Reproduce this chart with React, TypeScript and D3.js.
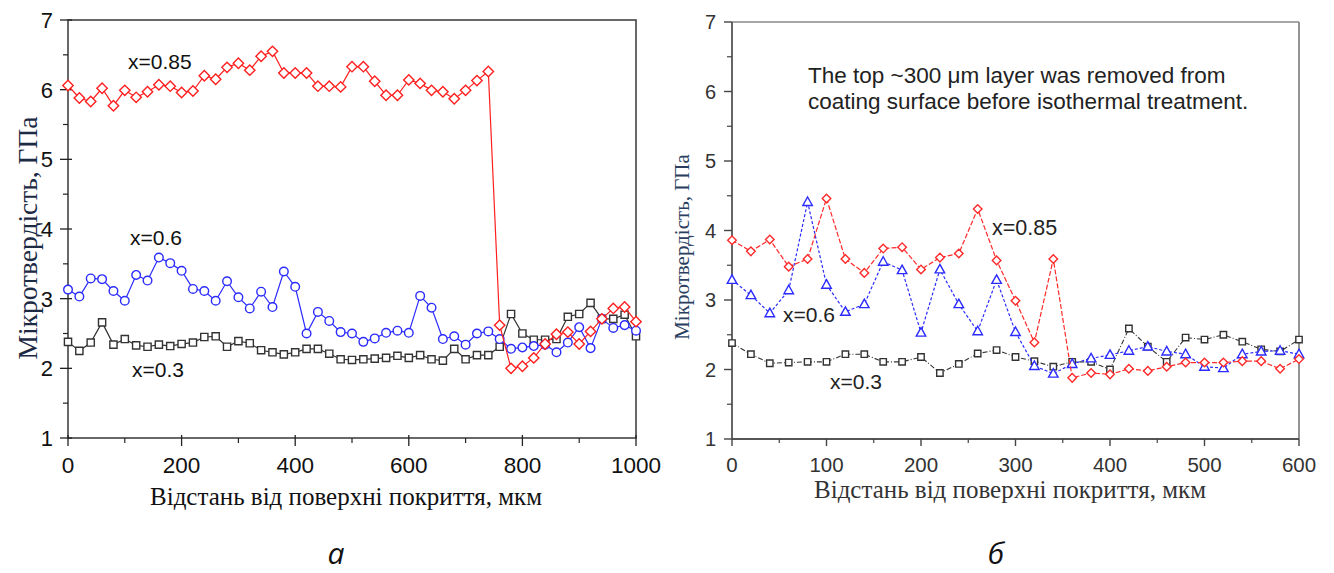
import React from "react";
import * as d3 from "d3";

// ---------- Data: panel a ----------
const xA = [0,20,40,60,80,100,120,140,160,180,200,220,240,260,280,300,320,340,360,380,400,420,440,460,480,500,520,540,560,580,600,620,640,660,680,700,720,740,760,780,800,820,840,860,880,900,920,940,960,980,1000];
const a085 = [6.06,5.88,5.83,6.02,5.77,5.99,5.89,5.97,6.07,6.05,5.96,5.98,6.20,6.15,6.32,6.38,6.28,6.48,6.55,6.24,6.24,6.24,6.05,6.05,6.04,6.33,6.33,6.12,5.92,5.92,6.14,6.09,5.99,5.97,5.87,5.99,6.13,6.26,2.62,2.00,2.03,2.15,2.35,2.49,2.52,2.35,2.53,2.71,2.86,2.88,2.67];
const a06 = [3.13,3.03,3.29,3.28,3.11,2.97,3.34,3.26,3.59,3.51,3.40,3.14,3.11,2.97,3.25,3.02,2.86,3.10,2.88,3.39,3.17,2.50,2.81,2.68,2.52,2.50,2.38,2.43,2.51,2.54,2.51,3.04,2.87,2.42,2.46,2.34,2.50,2.53,2.42,2.28,2.30,2.32,2.34,2.23,2.37,2.59,2.29,2.71,2.58,2.62,2.54];
const a03 = [2.38,2.25,2.37,2.66,2.34,2.42,2.33,2.31,2.34,2.32,2.35,2.37,2.45,2.46,2.31,2.39,2.36,2.26,2.23,2.20,2.23,2.28,2.28,2.21,2.13,2.12,2.13,2.14,2.15,2.18,2.15,2.19,2.13,2.11,2.28,2.13,2.19,2.19,2.31,2.78,2.50,2.41,2.41,2.42,2.74,2.78,2.94,2.71,2.71,2.77,2.46];
const xTicksA = [0,200,400,600,800,1000];
const xMinorA = [100,300,500,700,900];

// ---------- Data: panel б ----------
const xB = [0,20,40,60,80,100,120,140,160,180,200,220,240,260,280,300,320,340,360,380,400,420,440,460,480,500,520,540,560,580,600];
const b085 = [3.86,3.70,3.87,3.48,3.59,4.46,3.59,3.39,3.74,3.76,3.44,3.61,3.67,4.31,3.57,2.99,2.39,3.59,1.88,1.95,1.93,2.01,1.98,2.04,2.10,2.10,2.10,2.12,2.12,2.01,2.15];
const b06 = [3.29,3.07,2.81,3.14,4.41,3.22,2.83,2.94,3.55,3.43,2.53,3.44,2.94,2.55,3.29,2.54,2.05,1.94,2.08,2.16,2.21,2.27,2.33,2.26,2.22,2.04,2.02,2.22,2.26,2.27,2.22];
const b03 = [2.38,2.22,2.09,2.10,2.11,2.11,2.22,2.22,2.11,2.11,2.18,1.95,2.08,2.23,2.28,2.18,2.12,2.04,2.11,2.11,2.00,2.59,2.33,2.11,2.46,2.43,2.50,2.40,2.29,2.26,2.43];
const xTicksB = [0,100,200,300,400,500,600];
const xMinorB = [50,150,250,350,450,550];

const yTicks = [1,2,3,4,5,6,7];
const yMinor = [1.5,2.5,3.5,4.5,5.5,6.5];

const yLabel = "Мікротвердість, ГПа";
const xLabel = "Відстань від поверхні покриття, мкм";
const note1 = "The top ~300 μm layer was removed from";
const note2 = "coating surface before isothermal treatment.";

type Shape = "diamond" | "circle" | "square" | "triangle";

function marker(shape: Shape, x: number, y: number, r: number) {
  if (shape === "diamond") return `M${x},${y - r}L${x + r},${y}L${x},${y + r}L${x - r},${y}Z`;
  if (shape === "square") return `M${x - r},${y - r}h${2 * r}v${2 * r}h${-2 * r}Z`;
  if (shape === "triangle") return `M${x},${y - r}L${x + r * 0.95},${y + r * 0.7}L${x - r * 0.95},${y + r * 0.7}Z`;
  return `M${x - r},${y}a${r},${r} 0 1,0 ${2 * r},0a${r},${r} 0 1,0 ${-2 * r},0Z`;
}

function Series({ xs, ys, x, y, color, shape, r, dash, sw }: any) {
  const pts: [number, number][] = xs.map((v: number, i: number) => [x(v), y(ys[i])]);
  const line = d3.line()(pts) || "";
  return (
    <g>
      <path d={line} fill="none" stroke={color} strokeWidth={sw} strokeDasharray={dash} />
      {pts.map((p, i) => (
        <path key={i} d={marker(shape, p[0], p[1], r)} fill="white" stroke={color} strokeWidth={1.4} />
      ))}
    </g>
  );
}

export default function App() {
  // panel a
  const xa = d3.scaleLinear().domain([0, 1000]).range([68, 636]);
  const ya = d3.scaleLinear().domain([1, 7]).range([438, 20]);
  // panel б
  const xb = d3.scaleLinear().domain([0, 600]).range([732, 1299]);
  const yb = d3.scaleLinear().domain([1, 7]).range([439, 22]);

  const sans = "Liberation Sans, Arial, sans-serif";
  const serif = "Liberation Serif, Times New Roman, serif";

  return (
    <svg width={1334} height={573} style={{ position: "absolute", left: 0, top: 0, background: "white" }}>
      {/* ---------------- Panel a ---------------- */}
      <g>
        <rect x={xa(0)} y={ya(7)} width={xa(1000) - xa(0)} height={ya(1) - ya(7)} fill="none" stroke="#444" strokeWidth={1.6} />
        {yTicks.map((t) => (
          <g key={"ya" + t}>
            <line x1={xa(0) - 8} x2={xa(0) + 4} y1={ya(t)} y2={ya(t)} stroke="#222" strokeWidth={1.3} />
            <text x={53} y={ya(t) + 8} textAnchor="end" fontFamily={sans} fontSize={22} fill="#111">{t}</text>
          </g>
        ))}
        {yMinor.map((t) => (
          <line key={"yma" + t} x1={xa(0) - 5} x2={xa(0)} y1={ya(t)} y2={ya(t)} stroke="#222" strokeWidth={1.2} />
        ))}
        {xTicksA.map((t) => (
          <g key={"xa" + t}>
            <line x1={xa(t)} x2={xa(t)} y1={ya(1) - 3} y2={ya(1) + 8} stroke="#222" strokeWidth={1.3} />
            <text x={xa(t)} y={473} textAnchor="middle" fontFamily={sans} fontSize={22.5} fill="#111">{t}</text>
          </g>
        ))}
        {xMinorA.map((t) => (
          <line key={"xma" + t} x1={xa(t)} x2={xa(t)} y1={ya(1)} y2={ya(1) + 5} stroke="#222" strokeWidth={1.2} />
        ))}
        <text transform="translate(37,238) rotate(-90)" textAnchor="middle" fontFamily={serif} fontSize={27.5} fill="#1c2a44">{yLabel}</text>
        <text x={346} y={505} textAnchor="middle" fontFamily={serif} fontSize={25} fill="#111">{xLabel}</text>

        <Series xs={xA} ys={a03} x={xa} y={ya} color="#333" shape="square" r={3.6} sw={1.2} />
        <Series xs={xA} ys={a06} x={xa} y={ya} color="#2b2bff" shape="circle" r={4.3} sw={1.2} />
        <Series xs={xA} ys={a085} x={xa} y={ya} color="#ff1f1f" shape="diamond" r={5.2} sw={1.2} />

        <text x={128} y={69} fontFamily={sans} fontSize={21} fill="#111">x=0.85</text>
        <text x={130} y={245} fontFamily={sans} fontSize={21} fill="#111">x=0.6</text>
        <text x={132} y={377} fontFamily={sans} fontSize={21} fill="#111">x=0.3</text>

        <text x={336} y={564} textAnchor="middle" fontFamily="Open Sans, sans-serif" fontStyle="italic" fontSize={30} fill="#111">а</text>
      </g>

      {/* ---------------- Panel б ---------------- */}
      <g>
        <line x1={xb(0)} x2={xb(600)} y1={yb(7)} y2={yb(7)} stroke="#888" strokeWidth={1.6} />
        <line x1={xb(600)} x2={xb(600)} y1={yb(7)} y2={yb(1)} stroke="#888" strokeWidth={1.8} />
        <line x1={xb(0)} x2={xb(0)} y1={yb(7)} y2={yb(1)} stroke="#666" strokeWidth={2} />
        <line x1={xb(0)} x2={xb(600)} y1={yb(1)} y2={yb(1)} stroke="#555" strokeWidth={2} />
        {yTicks.map((t) => (
          <g key={"yb" + t}>
            <line x1={xb(0) - 8} x2={xb(0)} y1={yb(t)} y2={yb(t)} stroke="#444" strokeWidth={1.4} />
            <text x={716} y={yb(t) + 7} textAnchor="end" fontFamily={sans} fontSize={20} fill="#333">{t}</text>
          </g>
        ))}
        {yMinor.map((t) => (
          <line key={"ymb" + t} x1={xb(0) - 5} x2={xb(0)} y1={yb(t)} y2={yb(t)} stroke="#444" strokeWidth={1.2} />
        ))}
        {xTicksB.map((t) => (
          <g key={"xb" + t}>
            <line x1={xb(t)} x2={xb(t)} y1={yb(1)} y2={yb(1) + 7} stroke="#444" strokeWidth={1.4} />
            <text x={xb(t)} y={472} textAnchor="middle" fontFamily={sans} fontSize={20.5} fill="#333">{t}</text>
          </g>
        ))}
        {xMinorB.map((t) => (
          <line key={"xmb" + t} x1={xb(t)} x2={xb(t)} y1={yb(1)} y2={yb(1) + 4} stroke="#444" strokeWidth={1.2} />
        ))}
        <text transform="translate(689,247) rotate(-90)" textAnchor="middle" fontFamily={serif} fontSize={21} fill="#2a3f5f">{yLabel}</text>
        <text x={1010} y={498} textAnchor="middle" fontFamily={serif} fontSize={25} fill="#333">{xLabel}</text>

        <text x={808} y={83} fontFamily={sans} fontSize={22.5} fill="#222">{note1}</text>
        <text x={808} y={109} fontFamily={sans} fontSize={22.5} fill="#222">{note2}</text>

        <Series xs={xB} ys={b03} x={xb} y={yb} color="#333" shape="square" r={3.2} sw={1.1} dash="5,2,1,2" />
        <Series xs={xB} ys={b06} x={xb} y={yb} color="#2b2bff" shape="triangle" r={5} sw={1.2} dash="3,2" />
        <Series xs={xB} ys={b085} x={xb} y={yb} color="#ff2a2a" shape="diamond" r={4.3} sw={1.2} dash="5,2" />

        <text x={992} y={235} fontFamily={sans} fontSize={21.5} fill="#222">x=0.85</text>
        <text x={783} y={322} fontFamily={sans} fontSize={21} fill="#222">x=0.6</text>
        <text x={830} y={389} fontFamily={sans} fontSize={21} fill="#222">x=0.3</text>

        <text x={996} y={564} textAnchor="middle" fontFamily="Open Sans, sans-serif" fontStyle="italic" fontSize={30} fill="#111">б</text>
      </g>
    </svg>
  );
}
